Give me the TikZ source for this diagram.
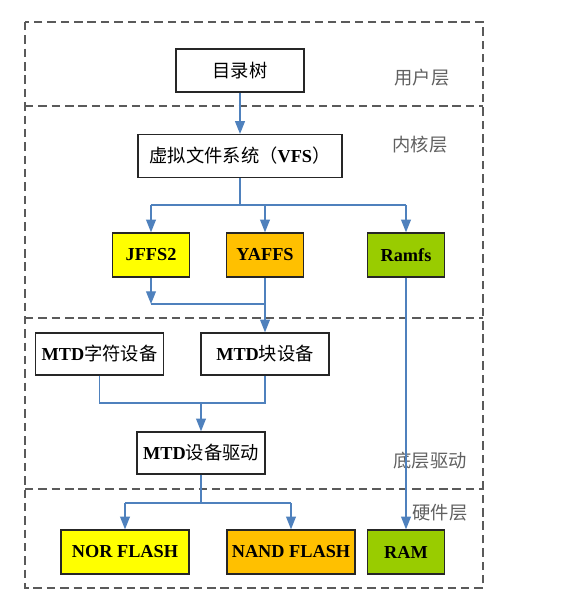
\documentclass[tikz,border=0pt]{standalone}
\usepackage{fontspec}
\setmainfont{Liberation Serif}
\newfontfamily\cjk{Noto Sans CJK SC}
\usetikzlibrary{arrows.meta}

\definecolor{linkblue}{HTML}{4F81BD}
\definecolor{framegray}{HTML}{5A5A5A}
\definecolor{labelgray}{HTML}{606060}
\definecolor{fsyellow}{HTML}{FFFF00}
\definecolor{fsorange}{HTML}{FFC000}
\definecolor{fsgreen}{HTML}{99CC00}

\tikzset{
    box/.style={shape=rectangle,draw=black!85,line width=1pt,fill=white,
        inner sep=0pt,minimum width=3.2cm,minimum height=1.07cm,
        font=\fontsize{13}{15}\selectfont},
    fsbox/.style={box,minimum width=1.93cm,minimum height=1.1cm,font=\fontsize{13}{15}\selectfont\bfseries},
    layer/.style={draw=framegray,line width=1.2pt,dash pattern=on 6pt off 3.5pt},
    layername/.style={text=labelgray,font=\fontsize{13}{15}\selectfont\cjk},
    link/.style={draw=linkblue,line width=0.9pt},
    linkto/.style={link,-{Triangle[width=7pt,length=9pt]}}
}

\begin{document}
\begin{tikzpicture}[x=0.025cm,y=-0.025cm]

    \useasboundingbox (0,0) rectangle (579,601);

    % layers
    \draw[layer] (25,22) rectangle (483,588);
    \draw[layer] (25,106) -- (483,106);
    \draw[layer] (25,318) -- (483,318);
    \draw[layer] (25,489) -- (483,489);

    \node[layername] (user)   at (422,78)  {用户层};
    \node[layername] (kernel) at (420,145) {内核层};
    \node[layername] (driver) at (430,461) {底层驱动};
    \node[layername] (hw)     at (440,513) {硬件层};

    % boxes
    \node[box] (tree) at (240,70.5) {\cjk 目录树};
    \node[box,minimum width=5.1cm] (vfs) at (240,156) {{\cjk 虚拟文件系统（}\textbf{VFS}{\cjk ）}};

    \node[fsbox,fill=fsyellow] (jffs)  at (151,255) {JFFS2};
    \node[fsbox,fill=fsorange] (yaffs) at (265,255) {YAFFS};
    \node[fsbox,fill=fsgreen]  (ramfs) at (406,255) {Ramfs};

    \node[box,minimum height=1.05cm] (mtdchar)  at (99.5,354) {\textbf{MTD}{\cjk 字符设备}};
    \node[box,minimum height=1.05cm] (mtdblock) at (265,354)  {\textbf{MTD}{\cjk 块设备}};
    \node[box,minimum height=1.05cm] (mtddrv)   at (201,453)  {\textbf{MTD}{\cjk 设备驱动}};

    \node[fsbox,minimum width=3.2cm,fill=fsyellow] (nor)  at (125,552) {NOR FLASH};
    \node[fsbox,minimum width=3.2cm,fill=fsorange] (nand) at (291,552) {NAND FLASH};
    \node[fsbox,fill=fsgreen] (ram) at (406,552) {RAM};

    % bus points
    \coordinate (fsbus)  at (240,205);
    \coordinate (join)   at (151,304);
    \coordinate (mtdbus) at (201,403);
    \coordinate (hwbus)  at (201,503);

    % connectors
    \draw[linkto] (tree) -- (vfs);
    \draw[link] (vfs) -- (fsbus);
    \draw[link] (jffs |- fsbus) -- (ramfs |- fsbus);
    \draw[linkto] (jffs |- fsbus) -- (jffs);
    \draw[linkto] (yaffs |- fsbus) -- (yaffs);
    \draw[linkto] (ramfs |- fsbus) -- (ramfs);

    \draw[linkto] (jffs) -- (join);
    \draw[link] (join) -- (yaffs |- join);
    \draw[linkto] (yaffs) -- (mtdblock);

    \draw[link] (mtdchar) -- (mtdchar |- mtdbus) -- (mtdblock |- mtdbus) -- (mtdblock);
    \draw[linkto] (mtdbus) -- (mtddrv);

    \draw[link] (mtddrv) -- (hwbus);
    \draw[link] (nor |- hwbus) -- (nand |- hwbus);
    \draw[linkto] (nor |- hwbus) -- (nor);
    \draw[linkto] (nand |- hwbus) -- (nand);

    \draw[linkto] (ramfs) -- (ram);

\end{tikzpicture}
\end{document}
